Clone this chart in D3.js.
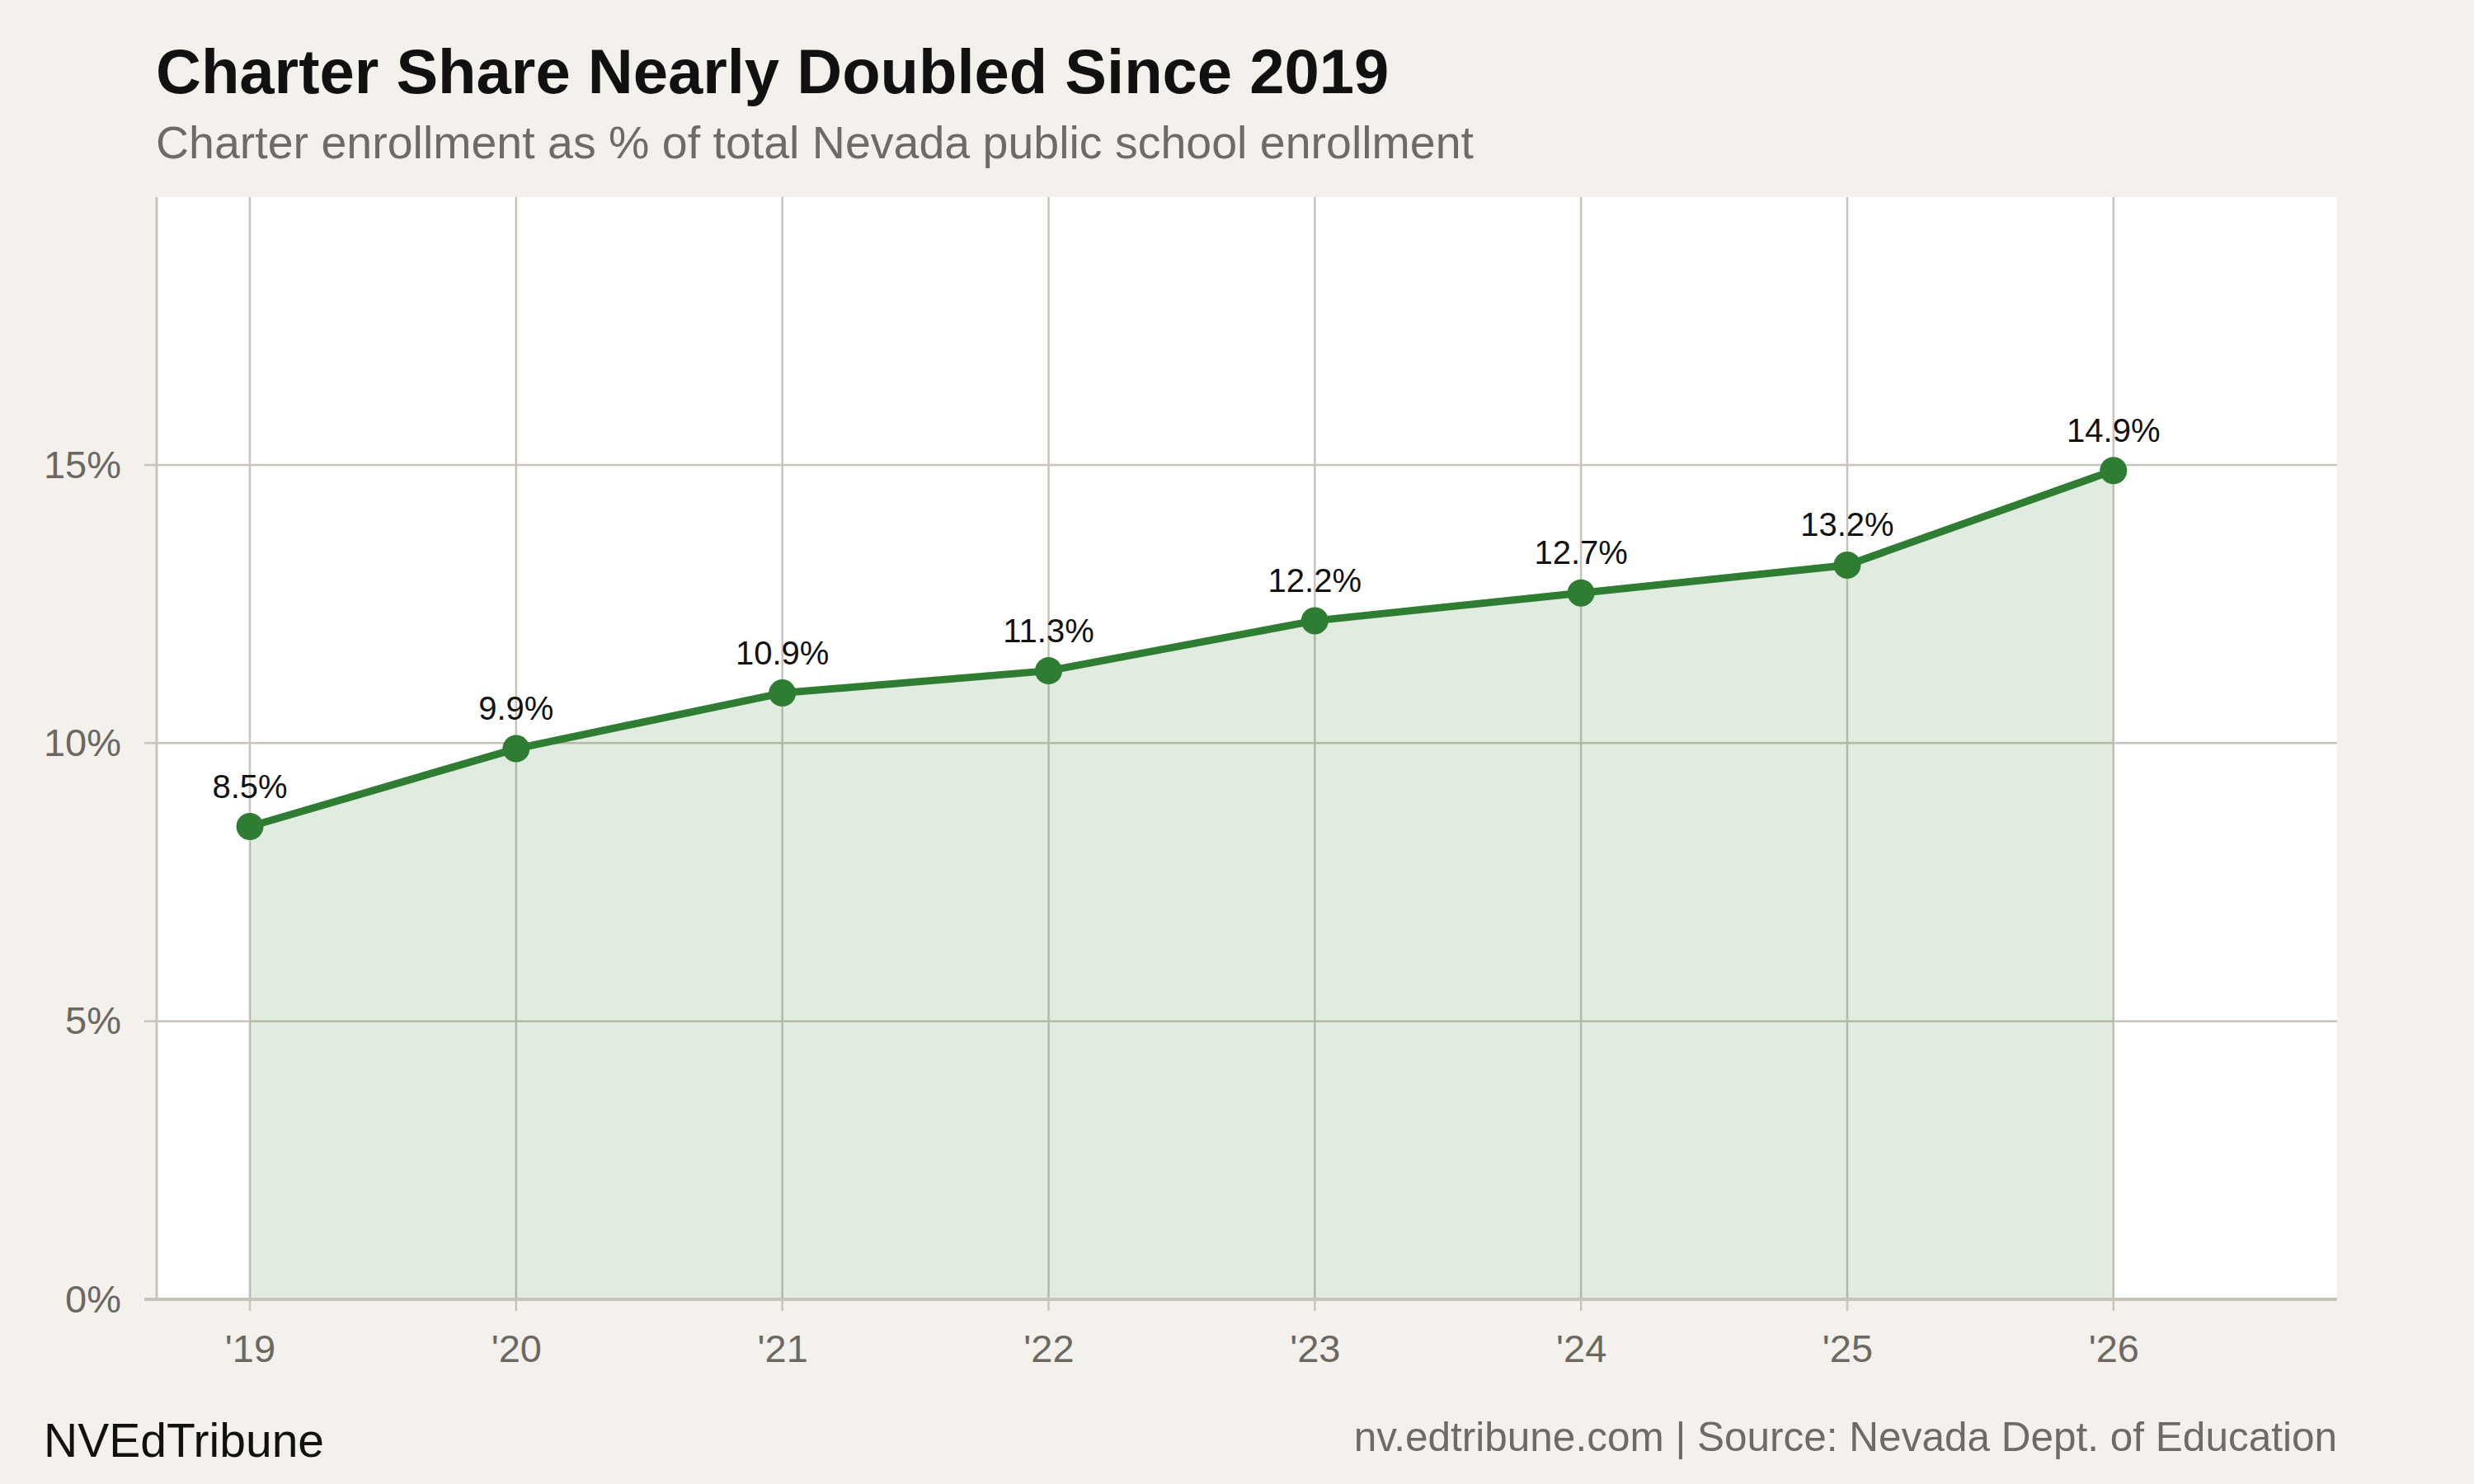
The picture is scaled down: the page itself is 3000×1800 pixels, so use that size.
<!DOCTYPE html>
<html>
<head>
<meta charset="UTF-8">
<script src="https://d3js.org/d3.v7.min.js"></script>
<style>
    body {
        margin: 0;
        background: #f4f1ec;
        font-family: "Liberation Sans", Arial, Helvetica, sans-serif;
    }
    .tick text {
        fill: #6b6862;
        font-size: 47px;
    }
    .domain {
        display: none;
    }
</style>
</head>
<body>
<div id="chart"></div>
<script>
    // Datos
    const years = [2019, 2020, 2021, 2022, 2023, 2024, 2025, 2026];
    const charterShare = [8.5, 9.9, 10.9, 11.3, 12.2, 12.7, 13.2, 14.9];
    const yTicks = [0, 5, 10, 15];
    const xTickLabels = ["'19", "'20", "'21", "'22", "'23", "'24", "'25", "'26"];

    const width = 3000;
    const height = 1800;
    const plot = { left: 190, right: 2834, top: 239, bottom: 1576 };

    const lineColor = "#2e7d32";
    const gridColor = "#c9c4ba";

    const data = years.map((y, i) => ({ year: y, value: charterShare[i] }));

    const svg = d3.select("#chart")
        .append("svg")
        .attr("width", width)
        .attr("height", height);

    svg.append("rect")
        .attr("width", width)
        .attr("height", height)
        .attr("fill", "#f4f1ec");

    // Escalas
    const x = d3.scaleLinear()
        .domain([2018.65, 2026.84])
        .range([plot.left, plot.right]);

    const y = d3.scaleLinear()
        .domain([0, d3.max(charterShare) * 1.33])
        .range([plot.bottom, plot.top]);

    // Fondo del área de trazado
    svg.append("rect")
        .attr("x", plot.left)
        .attr("y", plot.top)
        .attr("width", plot.right - plot.left)
        .attr("height", plot.bottom - plot.top)
        .attr("fill", "#ffffff");

    // Rejilla
    const grid = svg.append("g");
    grid.selectAll(".hgrid")
        .data(yTicks)
        .join("line")
        .attr("x1", plot.left - 15)
        .attr("x2", plot.right)
        .attr("y1", d => y(d))
        .attr("y2", d => y(d))
        .attr("stroke", gridColor)
        .attr("stroke-width", 2.5);

    grid.selectAll(".vgrid")
        .data(years)
        .join("line")
        .attr("x1", d => x(d))
        .attr("x2", d => x(d))
        .attr("y1", plot.top)
        .attr("y2", plot.bottom + 14)
        .attr("stroke", gridColor)
        .attr("stroke-width", 2.5);

    // Área
    const area = d3.area()
        .x(d => x(d.year))
        .y0(y(0))
        .y1(d => y(d.value));

    svg.append("path")
        .datum(data)
        .attr("d", area)
        .attr("fill", lineColor)
        .attr("fill-opacity", 0.15);

    // Ejes
    svg.append("line")
        .attr("x1", plot.left)
        .attr("x2", plot.left)
        .attr("y1", plot.top)
        .attr("y2", plot.bottom)
        .attr("stroke", gridColor)
        .attr("stroke-width", 3);

    svg.append("line")
        .attr("x1", plot.left - 15)
        .attr("x2", plot.right)
        .attr("y1", plot.bottom)
        .attr("y2", plot.bottom)
        .attr("stroke", gridColor)
        .attr("stroke-width", 4);

    svg.append("g")
        .attr("transform", `translate(0,${plot.bottom})`)
        .call(d3.axisBottom(x)
            .tickValues(years)
            .tickSize(0)
            .tickFormat((d, i) => xTickLabels[i]))
        .call(g => g.selectAll(".tick text").attr("dy", 0).attr("y", 76));

    svg.append("g")
        .attr("transform", `translate(${plot.left},0)`)
        .call(d3.axisLeft(y)
            .tickValues(yTicks)
            .tickSize(0)
            .tickPadding(43)
            .tickFormat(d => d + "%"));

    // Línea
    const line = d3.line()
        .x(d => x(d.year))
        .y(d => y(d.value));

    svg.append("path")
        .datum(data)
        .attr("d", line)
        .attr("fill", "none")
        .attr("stroke", lineColor)
        .attr("stroke-width", 9)
        .attr("stroke-linejoin", "round");

    svg.append("g")
        .selectAll("circle")
        .data(data)
        .join("circle")
        .attr("cx", d => x(d.year))
        .attr("cy", d => y(d.value))
        .attr("r", 16.5)
        .attr("fill", lineColor);

    // Etiquetas de valor
    svg.append("g")
        .selectAll("text")
        .data(data)
        .join("text")
        .attr("x", d => x(d.year))
        .attr("y", d => y(d.value) - 35)
        .attr("text-anchor", "middle")
        .attr("font-size", 40)
        .attr("fill", "#111111")
        .text(d => d.value.toFixed(1) + "%");

    // Títulos
    svg.append("text")
        .attr("x", 189)
        .attr("y", 113)
        .attr("font-size", 76)
        .attr("font-weight", "bold")
        .attr("fill", "#111111")
        .text("Charter Share Nearly Doubled Since 2019");

    svg.append("text")
        .attr("x", 189)
        .attr("y", 192)
        .attr("font-size", 55.5)
        .attr("fill", "#6e6b66")
        .text("Charter enrollment as % of total Nevada public school enrollment");

    // Pie
    svg.append("text")
        .attr("x", 53)
        .attr("y", 1767)
        .attr("font-size", 57)
        .attr("fill", "#111111")
        .text("NVEdTribune");

    svg.append("text")
        .attr("x", plot.right)
        .attr("y", 1760)
        .attr("text-anchor", "end")
        .attr("font-size", 49.5)
        .attr("fill", "#6e6b66")
        .text("nv.edtribune.com | Source: Nevada Dept. of Education");
</script>
</body>
</html>
